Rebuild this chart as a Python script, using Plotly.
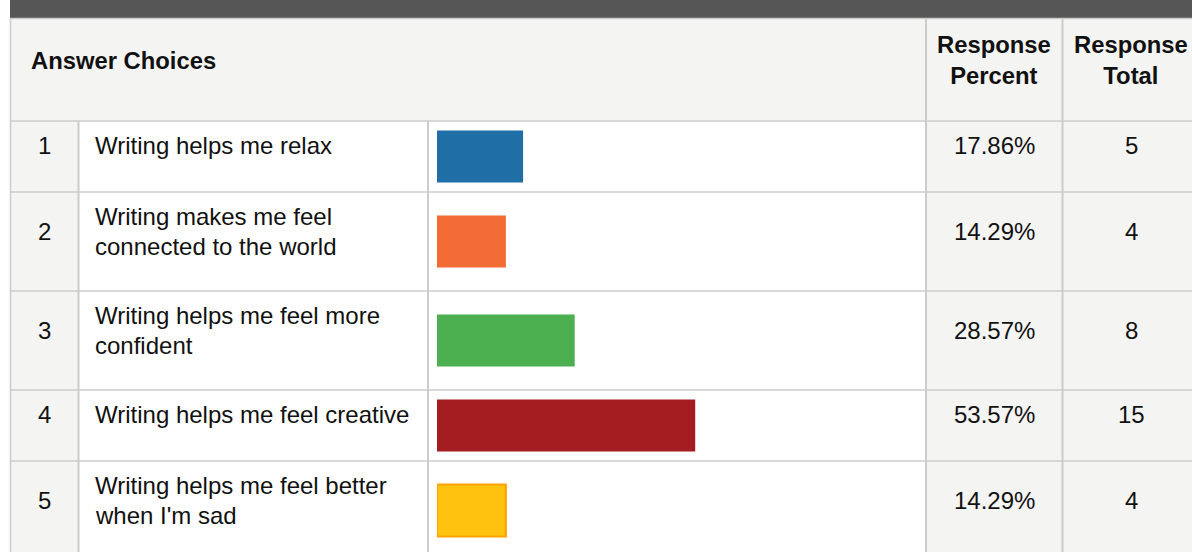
import plotly.graph_objects as go

# ---- data ----
numbers = ["1", "2", "3", "4", "5"]
choices = [
    "Writing helps me relax",
    "Writing makes me feel\nconnected to the world",
    "Writing helps me feel more\nconfident",
    "Writing helps me feel creative",
    "Writing helps me feel better\nwhen I'm sad",
]
percents = [17.86, 14.29, 28.57, 53.57, 14.29]
totals = [5, 4, 8, 15, 4]
headers = ["Answer Choices", "Response<br>Percent", "Response<br>Total"]

# ---- layout / style ----
W, H = 1192, 552
FONT = "Arial, 'Liberation Sans', sans-serif"
GRID = "#cccccc"
CELL_GRAY = "#f4f4f3"
bar_colors = ["#1f6ea5", "#f26b35", "#4cb050", "#a31c1f", "#ffc20e"]
bar_line_colors = ["#1f6ea5", "#f26b35", "#4cb050", "#a31c1f", "#ffa200"]
bar_line_widths = [0, 0, 0, 0, 2]

left = 10
col_edges = [left, 78.5, 428, 926, 1062.5, W]
head_top, head_bot = 19, 121
row_heights = [71, 99, 99, 71, 99]
row_tops = [head_bot]
for h in row_heights[:-1]:
    row_tops.append(row_tops[-1] + h)
row_centers = [t + h / 2 for t, h in zip(row_tops, row_heights)]

bar_x0 = 437
px_per_pct = 4.82

shapes = []
# dark top band
shapes.append(dict(type="rect", x0=left, x1=W, y0=0, y1=18, fillcolor="#565656", line_width=0, layer="below"))
# header background
shapes.append(dict(type="rect", x0=left, x1=W, y0=head_top, y1=head_bot, fillcolor=CELL_GRAY, line_width=0, layer="below"))
shapes.append(dict(type="line", x0=left, x1=W, y0=18.5, y1=18.5, line=dict(color=GRID, width=1.5), layer="below"))
# gray columns in body
shapes.append(dict(type="rect", x0=left, x1=col_edges[1], y0=head_bot, y1=H, fillcolor=CELL_GRAY, line_width=0, layer="below"))
shapes.append(dict(type="rect", x0=col_edges[3], x1=W, y0=head_bot, y1=H, fillcolor=CELL_GRAY, line_width=0, layer="below"))
# horizontal grid lines
for t in row_tops:
    shapes.append(dict(type="line", x0=left, x1=W, y0=t, y1=t, line=dict(color=GRID, width=1.5), layer="below"))
# vertical grid lines
shapes.append(dict(type="line", x0=left + 0.5, x1=left + 0.5, y0=head_top, y1=H, line=dict(color=GRID, width=1.5), layer="below"))
for x in col_edges[1:3]:
    shapes.append(dict(type="line", x0=x, x1=x, y0=head_bot, y1=H, line=dict(color=GRID, width=2), layer="below"))
for x in col_edges[3:5]:
    shapes.append(dict(type="line", x0=x, x1=x, y0=head_top, y1=H, line=dict(color=GRID, width=2), layer="below"))

annotations = []


def add_text(x, y, text, xanchor="center", bold=False):
    annotations.append(dict(
        x=x, y=y, xref="x", yref="y", text=f"<b>{text}</b>" if bold else text,
        showarrow=False, xanchor=xanchor, yanchor="middle",
        font=dict(family=FONT, size=24 if not bold else 23.8, color="#111111"),
    ))


# headers
add_text(29, 60, headers[0], xanchor="left", bold=True)
pc_center = (col_edges[3] + col_edges[4]) / 2
tot_center = 1131
add_text(pc_center, 60, headers[1], bold=True)
add_text(tot_center, 60, headers[2], bold=True)

line_gap = 30
for i in range(len(numbers)):
    lines = choices[i].split("\n")
    first = row_tops[i] + 24
    ys = [first + k * line_gap for k in range(len(lines))]
    mid = sum(ys) / len(ys)
    for ln, yy in zip(lines, ys):
        add_text(93, yy, ln, xanchor="left")
    add_text((col_edges[0] + col_edges[1]) / 2 + 0.5, mid, numbers[i])
    add_text(pc_center, mid, f"{percents[i]:.2f}%")
    add_text(tot_center, mid, str(totals[i]))

fig = go.Figure()
fig.add_trace(go.Bar(
    x=percents, y=row_centers, orientation="h", width=52,
    marker=dict(color=bar_colors, line=dict(color=bar_line_colors, width=bar_line_widths)),
    xaxis="x2", yaxis="y", hoverinfo="skip", showlegend=False,
))

fig.update_layout(
    width=W, height=H, autosize=False,
    margin=dict(l=0, r=0, t=0, b=0, pad=0),
    paper_bgcolor="white", plot_bgcolor="rgba(0,0,0,0)",
    xaxis=dict(range=[0, W], visible=False, domain=[0, 1], fixedrange=True),
    xaxis2=dict(range=[0, 100], visible=False, anchor="y",
                domain=[bar_x0 / W, (bar_x0 + 100 * px_per_pct) / W], fixedrange=True),
    yaxis=dict(range=[H, 0], visible=False, domain=[0, 1], fixedrange=True),
    shapes=shapes, annotations=annotations, showlegend=False,
)

fig.write_html("out.html", config={"displayModeBar": False})
